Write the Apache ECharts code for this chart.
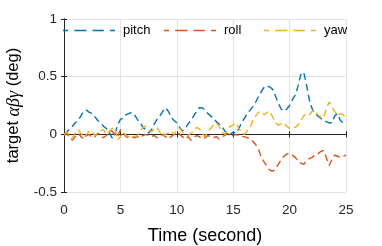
<!DOCTYPE html>
<html>
<head>
<meta charset="utf-8">
<script src="https://cdn.jsdelivr.net/npm/echarts@6/dist/echarts.min.js"></script>
<style>html,body{margin:0;padding:0;background:#fff;}#c{width:382px;height:246px;}</style>
</head>
<body>
<div id="c"></div>
<script>
const times = [0,0.25,0.5,0.75,1,1.25,1.5,1.75,2,2.25,2.5,2.75,3,3.25,3.5,3.75,4,4.25,4.5,4.75,5,5.25,5.5,5.75,6,6.25,6.5,6.75,7,7.25,7.5,7.75,8,8.25,8.5,8.75,9,9.25,9.5,9.75,10,10.25,10.5,10.75,11,11.25,11.5,11.75,12,12.25,12.5,12.75,13,13.25,13.5,13.75,14,14.25,14.5,14.75,15,15.25,15.5,15.75,16,16.25,16.5,16.75,17,17.25,17.5,17.75,18,18.25,18.5,18.75,19,19.25,19.5,19.75,20,20.25,20.5,20.75,21,21.25,21.5,21.75,22,22.25,22.5,22.75,23,23.25,23.5,23.75,24,24.25,24.5,24.75,25];
const pitch = [0,0.02,0.05,0.07,0.1,0.12,0.16,0.2,0.21,0.19,0.18,0.15,0.12,0.1,0.07,0.05,0.02,-0.03,0.0,0.08,0.13,0.14,0.17,0.18,0.19,0.17,0.13,0.1,0.06,0.04,0.01,0.04,0.09,0.13,0.16,0.2,0.23,0.2,0.15,0.12,0.1,0.06,0.03,0.05,0.09,0.12,0.16,0.2,0.23,0.23,0.21,0.18,0.16,0.14,0.11,0.09,0.07,0.03,-0.01,0.0,0.02,0.01,0.05,0.1,0.14,0.18,0.21,0.24,0.28,0.33,0.37,0.41,0.42,0.41,0.39,0.33,0.27,0.22,0.2,0.22,0.25,0.3,0.34,0.42,0.52,0.54,0.43,0.3,0.22,0.18,0.16,0.14,0.12,0.11,0.1,0.1,0.16,0.18,0.12,0.1,0.1];
const roll = [-0.01,0.01,-0.03,-0.05,-0.02,0.01,-0.02,-0.04,-0.01,0.0,-0.03,-0.02,0.01,-0.01,-0.03,-0.01,0.02,0.03,-0.01,-0.02,0.04,0.01,-0.02,-0.03,-0.02,-0.03,-0.02,-0.03,-0.01,0.0,-0.01,-0.02,-0.01,-0.03,-0.02,0.0,-0.02,-0.04,-0.02,0.0,0.02,0.0,-0.02,-0.04,-0.02,-0.05,-0.03,-0.01,-0.02,-0.04,-0.03,-0.01,-0.02,-0.03,-0.02,-0.04,-0.02,-0.01,0.01,-0.01,-0.01,0.0,-0.01,-0.02,-0.02,-0.03,-0.04,-0.06,-0.09,-0.13,-0.2,-0.24,-0.28,-0.31,-0.32,-0.3,-0.26,-0.22,-0.19,-0.17,-0.17,-0.18,-0.2,-0.23,-0.25,-0.26,-0.23,-0.21,-0.2,-0.18,-0.17,-0.15,-0.14,-0.2,-0.27,-0.22,-0.18,-0.19,-0.2,-0.19,-0.18];
const yaw = [0,0.02,-0.01,-0.03,0.01,0.04,0.01,-0.03,0.0,0.03,0.02,-0.01,0.01,0.03,0.04,0.0,0.02,0.05,0.06,-0.05,-0.02,0.02,-0.01,-0.02,-0.01,-0.02,-0.01,0.03,0.06,0.07,0.04,0.02,0.05,0.06,0.02,-0.02,0.0,0.01,0.03,0.0,0.04,0.05,0.02,0.0,-0.01,0.01,0.03,0.06,0.05,0.01,-0.02,0.02,0.05,0.08,0.1,0.07,0.02,0.0,0.04,0.07,0.08,0.1,0.05,0.02,0.0,0.03,0.06,0.12,0.16,0.19,0.2,0.17,0.19,0.2,0.15,0.1,0.08,0.09,0.1,0.07,0.05,0.06,0.06,0.08,0.12,0.16,0.18,0.17,0.2,0.21,0.17,0.15,0.14,0.22,0.28,0.24,0.2,0.16,0.18,0.17,0.15];
const seriesNames = ['pitch','roll','yaw'];
const colors = ['#0072BD','#D95319','#EDB120'];
const xTicks = [0,5,10,15,20,25];
const yTicks = [-0.5,0,0.5,1];

const chart = echarts.init(document.getElementById('c'));
const font = 'Liberation Sans, Arial, Helvetica, sans-serif';
const axisColor = '#262626';
function pairs(arr){ return times.map((t,i)=>[t,arr[i]]); }
const values = [pitch, roll, yaw];
const legendLefts = [63,164,264];
const dashIcon = 'path://M0,0h5v2h-5z M11,0h12v2h-12z M29,0h11v2h-11z M46,0h5v2h-5z';
chart.setOption({
  animation:false,
  backgroundColor:'#fff',
  grid:{left:64,right:36,top:19,bottom:54,outerBoundsMode:'none',containLabel:false},
  legend: seriesNames.map((n,i)=>({
    data:[{name:n, icon:dashIcon, itemStyle:{color:colors[i]}}], left:legendLefts[i], top:24,
    itemWidth:52, itemHeight:1.6, itemGap:0, symbolKeepAspect:false,
    textStyle:{fontFamily:font,fontSize:13,color:'#000',padding:[0,0,0,3]},
    padding:0, selectedMode:false
  })),
  xAxis:[{
    type:'value', min:0, max:25, interval:5, position:'bottom',
    name:'Time (second)', nameLocation:'middle', nameGap:35,
    nameTextStyle:{fontFamily:font,fontSize:18,color:'#000'},
    axisLine:{show:true,lineStyle:{color:axisColor,width:1}},
    axisTick:{show:true,inside:true,length:3,lineStyle:{color:axisColor}},
    axisLabel:{fontFamily:font,fontSize:13.5,color:'#262626',margin:11},
    splitLine:{show:true,lineStyle:{color:'#e3e3e3',width:1}}
  },{
    type:'value', min:0, max:25, interval:5, position:'top',
    axisLine:{show:true,lineStyle:{color:axisColor,width:1}},
    axisTick:{show:true,inside:true,length:3,lineStyle:{color:axisColor}},
    axisLabel:{show:false}, splitLine:{show:false}
  }],
  yAxis:[{
    type:'value', min:-0.5, max:1, interval:0.5, position:'left',
    name:'{a|target }{g|αβγ}{a| (deg)}', nameLocation:'middle', nameGap:38, nameRotate:90,
    nameTextStyle:{rich:{
      a:{fontFamily:font,fontSize:16.5,color:'#000'},
      g:{fontFamily:'Liberation Serif, DejaVu Serif, serif',fontStyle:'italic',fontSize:18,color:'#000'}
    }},
    axisLine:{show:true,lineStyle:{color:axisColor,width:1}},
    axisTick:{show:true,inside:true,length:3,lineStyle:{color:axisColor}},
    axisLabel:{fontFamily:font,fontSize:13.5,color:'#262626',margin:7,formatter:v=>String(v)},
    splitLine:{show:true,lineStyle:{color:'#e3e3e3',width:1}}
  },{
    type:'value', min:-0.5, max:1, interval:0.5, position:'right',
    axisLine:{show:true,lineStyle:{color:axisColor,width:1}},
    axisTick:{show:true,inside:true,length:3,lineStyle:{color:axisColor}},
    axisLabel:{show:false}, splitLine:{show:false}
  }],
  series: seriesNames.map((n,i)=>({
    name:n, type:'line', xAxisIndex:0, yAxisIndex:0, data:pairs(values[i]),
    symbol:'none', smooth:false,
    lineStyle:{color:colors[i],width:1.4,type:[7,4]},
    itemStyle:{color:colors[i]}
  }))
});
</script>
</body>
</html>
